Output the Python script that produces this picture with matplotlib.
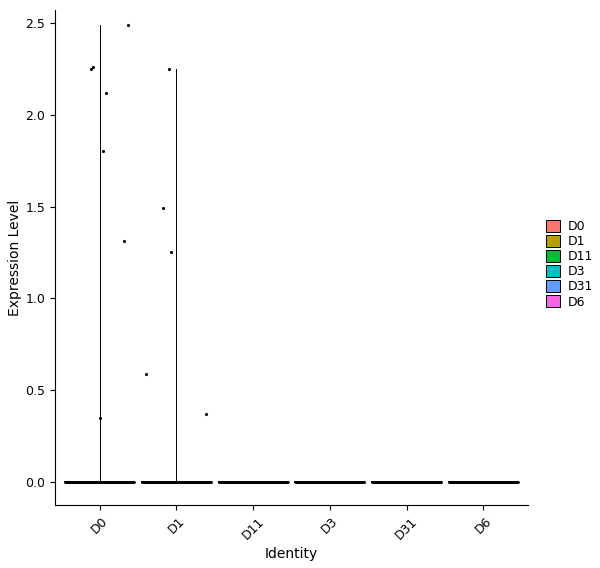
import numpy as np
import matplotlib.pyplot as plt
from matplotlib.patches import Patch

groups = ["D0", "D1", "D11", "D3", "D31", "D6"]
colors = ["#F8766D", "#B79F00", "#00BA38", "#00BFC4", "#619CFF", "#F564E3"]
vmax = [2.49, 2.25, 0, 0, 0, 0]
# nonzero cells: (group index, jitter offset, value)
pts_group = [0, 0, 0, 0, 0, 0, 0, 1, 1, 1, 1, 1]
pts_jit = [-0.11, -0.08, 0.09, 0.37, 0.04, 0.32, 0.01, -0.09, -0.18, -0.07, -0.39, 0.38]
pts_val = [2.25, 2.26, 2.12, 2.49, 1.80, 1.31, 0.35, 2.25, 1.49, 1.25, 0.59, 0.37]
n_zero = 200

fig = plt.figure(figsize=(6, 5.68), dpi=100)
ax = fig.add_axes([55/600, 63/568, 473/600, 495/568])

for i, g in enumerate(groups):
    if vmax[i] > 0:
        ax.plot([i, i], [0, vmax[i]], color="black", lw=0.7)
    ax.plot([i - 0.45, i + 0.45], [0, 0], color="black", lw=1.4)
    xs = i + np.linspace(-0.45, 0.45, n_zero)
    ax.scatter(xs, np.zeros(n_zero), s=3, color="black", lw=0)

ax.scatter(np.array(pts_group) + np.array(pts_jit), pts_val, s=5, color="black", lw=0)

ax.set_xlim(-0.58, 5.58)
ax.set_ylim(-0.125, 2.57)
ax.set_xticks(range(len(groups)))
ax.set_xticklabels(groups, rotation=45, fontsize=9)
ax.set_yticks([0, 0.5, 1.0, 1.5, 2.0, 2.5])
ax.set_yticklabels(["0.0", "0.5", "1.0", "1.5", "2.0", "2.5"], fontsize=9)
for s in ["top", "right"]:
    ax.spines[s].set_visible(False)
ax.set_xlabel("Identity", fontsize=10)
ax.set_ylabel("Expression Level", fontsize=10, labelpad=2)

handles = [Patch(facecolor=c, edgecolor="black", lw=0.7, label=g) for g, c in zip(groups, colors)]
fig.legend(handles=handles, loc="center left", bbox_to_anchor=(535/600, 0.535), frameon=False,
           fontsize=9, handlelength=1.1, handleheight=1.1, handletextpad=0.6, labelspacing=0.15)

fig.savefig("out.png")
